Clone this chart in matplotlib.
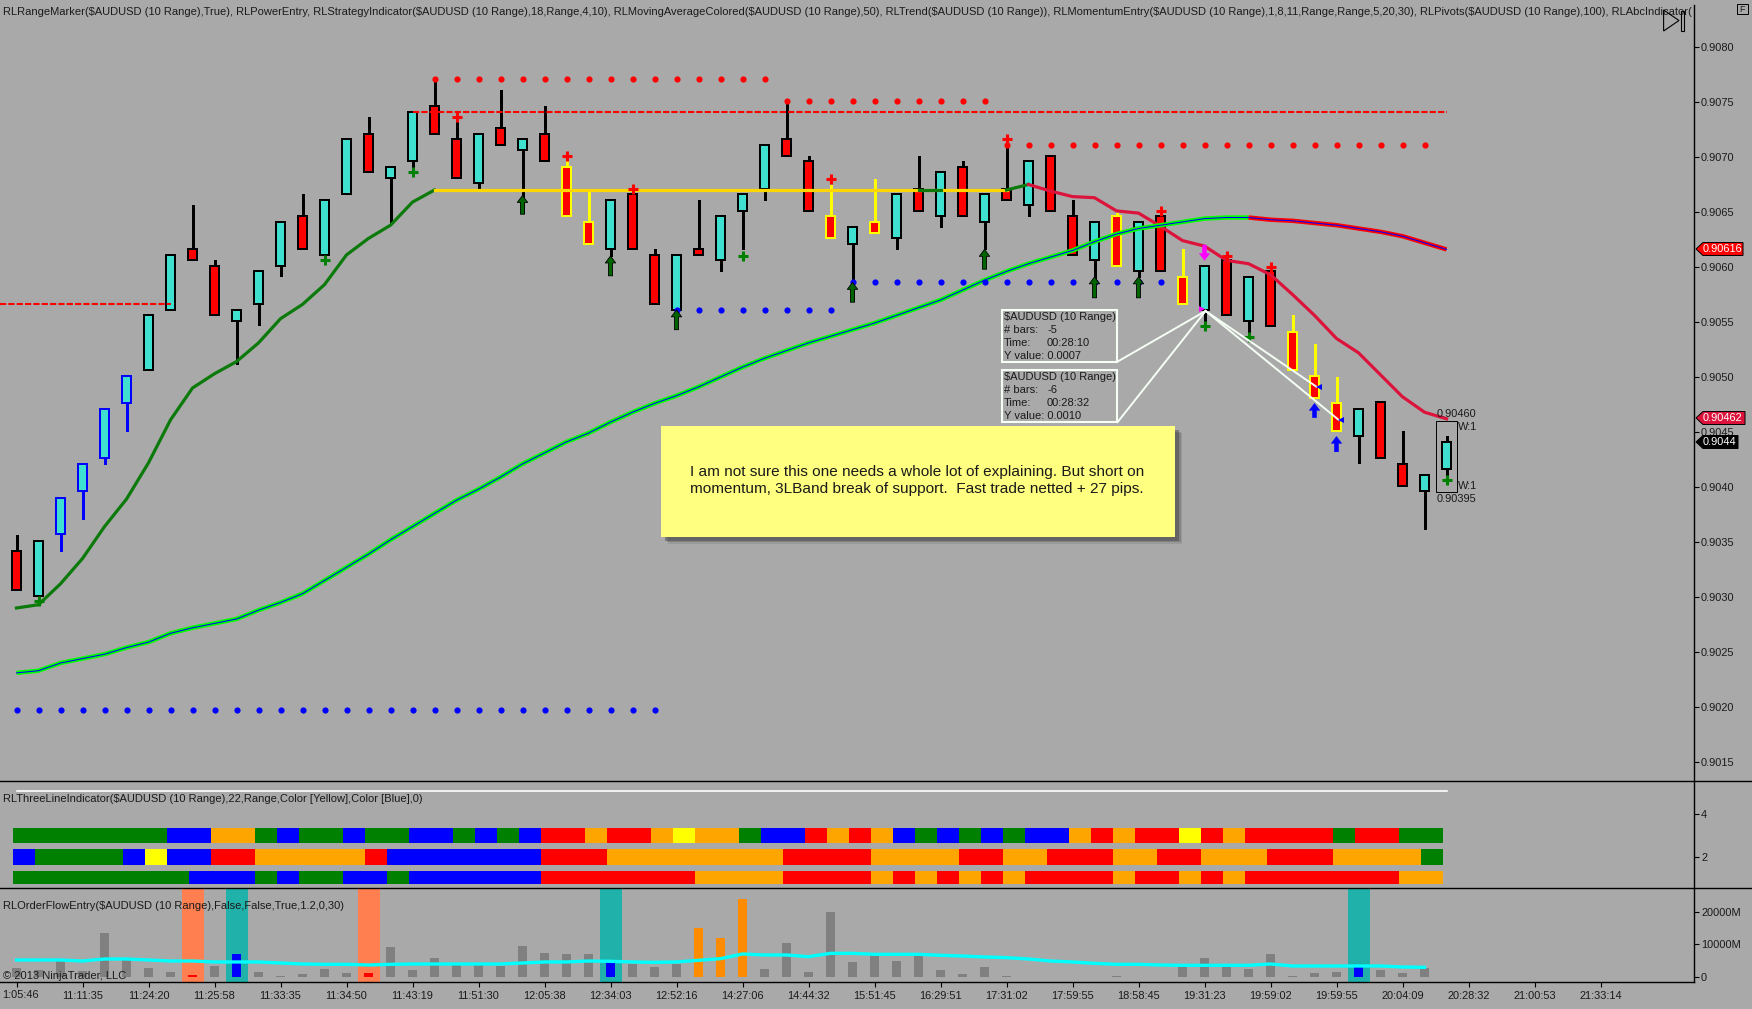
import matplotlib
matplotlib.use("Agg")
import matplotlib.pyplot as plt
from matplotlib.patches import Polygon, Rectangle
import numpy as np

plt.rcParams["font.family"] = ["Liberation Sans", "DejaVu Sans"]

W, H = 1752, 1009
BG = "#A9A9A9"
TXT = "#1a1a1a"
FS = 7.9

# candles, all prices in pips above 0.9000
body_top = [34.2, 35.1, 39.0, 42.1, 47.1, 50.1, 55.6, 61.1, 61.6, 60.1, 56.1, 59.6, 64.1, 64.6, 66.1, 71.6, 72.1,
            69.1, 74.1, 74.6, 71.6, 72.1, 72.6, 71.6, 72.1, 69.1, 64.1, 66.1, 66.6, 61.1, 61.1, 61.6, 64.6, 66.6,
            71.1, 71.6, 69.6, 64.6, 63.6, 64.1, 66.6, 67.1, 68.6, 69.1, 66.6, 67.1, 69.6, 70.1, 64.6, 64.1, 64.6,
            64.1, 64.6, 59.1, 60.1, 60.6, 59.1, 59.6, 54.1, 50.1, 47.6, 47.1, 47.7, 42.1, 41.1, 44.1]
body_bot = [30.6, 30.1, 35.7, 39.6, 42.6, 47.6, 50.6, 56.1, 60.6, 55.6, 55.1, 56.6, 60.1, 61.6, 61.1, 66.6, 68.6,
            68.1, 69.6, 72.1, 68.1, 67.6, 71.1, 70.6, 69.6, 64.6, 62.1, 61.6, 61.6, 56.6, 56.1, 61.1, 60.6, 65.1,
            67.1, 70.1, 65.1, 62.6, 62.1, 63.1, 62.6, 65.1, 64.6, 64.6, 64.1, 66.1, 65.6, 65.1, 61.1, 60.6, 60.1,
            59.6, 59.6, 56.6, 56.1, 55.6, 55.1, 54.6, 50.6, 48.1, 45.1, 44.6, 42.6, 40.1, 39.6, 41.6]
high = [35.6, 35.1, 39.0, 42.1, 47.1, 50.1, 55.6, 61.1, 65.6, 60.6, 56.1, 59.6, 64.1, 66.6, 66.1, 71.6, 73.6,
        69.1, 74.1, 77.0, 73.2, 72.1, 76.1, 71.6, 74.6, 69.6, 66.8, 66.1, 67.4, 61.6, 61.1, 66.1, 64.6, 66.6,
        71.1, 74.8, 70.1, 67.5, 63.6, 68.0, 66.6, 70.1, 68.6, 69.6, 66.6, 71.0, 69.6, 70.1, 66.1, 64.1, 64.9,
        64.1, 64.8, 61.6, 60.1, 61.2, 59.1, 60.3, 55.6, 53.0, 50.0, 47.1, 47.7, 45.1, 41.1, 44.6]
low = [30.6, 30.0, 34.2, 37.1, 42.1, 45.1, 50.6, 56.1, 60.6, 55.6, 51.2, 54.7, 59.2, 61.6, 61.0, 66.6, 68.6,
       64.1, 69.1, 72.1, 68.1, 67.0, 71.1, 64.9, 69.6, 64.6, 62.1, 61.0, 61.6, 56.6, 56.0, 61.1, 59.6, 61.6,
       66.1, 70.1, 65.1, 62.6, 57.0, 63.1, 61.6, 65.1, 63.6, 64.6, 61.6, 66.1, 64.6, 65.1, 61.1, 59.0, 60.1,
       59.1, 59.6, 56.6, 54.6, 55.6, 54.0, 54.6, 50.6, 48.1, 45.1, 42.2, 42.6, 40.1, 36.2, 41.1]
fill_up = [1, 2, 3, 4, 5, 6, 7, 10, 11, 12, 14, 15, 17, 18, 21, 23, 27, 30, 32, 33, 34, 38, 40, 42, 44, 46, 49, 51,
           54, 56, 61, 64, 65]
blue_outline = [2, 3, 4, 5]
yellow_outline = [25, 26, 37, 39, 50, 53, 58, 59, 60]

# trend line
trend_green = [29.0, 29.3, 31.2, 33.5, 36.4, 38.9, 42.2, 46.1, 49.0, 50.3, 51.4, 53.1, 55.3, 56.6, 58.4, 61.1, 62.6,
               63.8, 65.9, 67.0]
trend_flat_idx = [19, 45]
trend_flat = 67.0
trend_green2_idx = [41, 42]
trend_green3_idx = [45, 46]
trend_green3 = [67.0, 67.5]
trend_red_idx = list(range(46, 66))
trend_red = [67.5, 66.9, 66.4, 66.3, 65.1, 64.9, 63.7, 62.4, 61.9, 60.6, 60.3, 59.3, 57.5, 55.6, 53.5, 52.2, 50.2,
             48.2, 46.8, 46.2]

# 50 period moving average
ma50 = [23.1, 23.3, 24.0, 24.4, 24.8, 25.4, 25.9, 26.7, 27.2, 27.6, 28.0, 28.8, 29.5, 30.3, 31.5, 32.7, 33.9, 35.2,
        36.4, 37.6, 38.8, 39.8, 40.9, 42.1, 43.1, 44.1, 44.9, 45.9, 46.8, 47.6, 48.3, 49.1, 50.0, 50.9, 51.7, 52.4,
        53.1, 53.7, 54.3, 54.9, 55.6, 56.3, 57.0, 57.9, 58.8, 59.6, 60.3, 60.9, 61.5, 62.3, 63.0, 63.5, 63.8, 64.1,
        64.4, 64.5, 64.5, 64.3, 64.2, 64.0, 63.8, 63.5, 63.2, 62.8, 62.2, 61.6]
ma_split = 56

# pivots dots: first index, last index, level
red_dots = [(19, 34, 77.1), (35, 44, 75.1), (45, 64, 71.1)]
blue_dots = [(0, 29, 19.7), (30, 37, 56.1), (38, 52, 58.6)]
dashed_levels = [(-0.75, 7, 56.6), (18, 65, 74.1)]

# entry markers
red_plus_i = [20, 25, 28, 37, 45, 52, 55, 57]
red_plus_p = [73.6, 70.1, 67.1, 68.0, 71.6, 65.1, 61.0, 60.0]
green_plus_i = [1, 14, 18, 33, 54, 56, 65]
green_plus_p = [29.6, 60.6, 68.6, 61.0, 54.6, 53.6, 40.6]
green_arrow_i = [23, 27, 30, 38, 44, 49, 51]
green_arrow_tip = [66.5, 61.0, 56.1, 58.6, 61.6, 59.1, 59.1]
green_arrow_tail = [64.8, 59.2, 54.3, 56.8, 59.8, 57.2, 57.2]
blue_arrow_i = [59, 60]
blue_arrow_tip = [47.6, 44.6]
blue_arrow_tail = [46.3, 43.2]

# measure lines: bar index and level of every end
apex = (54.05, 56.0)
box_corners = [(50.05, 51.4), (50.05, 45.9)]
measure_ends = [(59.1, 49.1), (60.1, 46.1)]

# three line rows as runs of cells
cell_colors = {"g": "#008000", "b": "#0000FF", "o": "#FFA500", "r": "#FF0000", "y": "#FFFF00"}
row1_codes = ["g", "b", "o", "g", "b", "g", "b", "g", "b", "g", "b", "g", "b", "r", "o", "r", "o", "y", "o", "g",
              "b", "r", "o", "r", "o", "b", "g", "b", "g", "b", "g", "b", "o", "r", "o", "r", "y", "r", "o", "r",
              "g", "r", "g"]
row1_runs = [7, 2, 2, 1, 1, 2, 1, 2, 2, 1, 1, 1, 1, 2, 1, 2, 1, 1, 2, 1,
             2, 1, 1, 1, 1, 1, 1, 1, 1, 1, 1, 2, 1, 1, 1, 2, 1, 1, 1, 4,
             1, 2, 2]
row2_codes = ["b", "g", "b", "y", "b", "r", "o", "r", "b", "r", "o", "r", "o", "r", "o", "r", "o", "r", "o", "r",
              "o", "g"]
row2_runs = [1, 4, 1, 1, 2, 2, 5, 1, 7, 3, 8, 4, 4, 2, 2, 3, 2, 2, 3, 3, 4, 1]
row3_codes = ["g", "b", "g", "b", "g", "b", "g", "b", "r", "o", "r", "o", "r", "o", "r", "o", "r", "o", "r", "o",
              "r", "o", "r", "o", "r", "o"]
row3_runs = [8, 3, 1, 1, 2, 2, 1, 6, 7, 4, 4, 1, 1, 1, 1, 1, 1, 1, 4, 1,
             2, 1, 1, 1, 7, 2]

# order flow volume (M), one value per bar
volume = [2770, 2150, 4900, 1850, 13540, 5850, 2770, 1540, 600, 3390, 7080, 1540, 300, 920, 2460, 1230, 1230, 9230,
          2150, 5850, 3690, 4000, 3390, 9540, 7390, 7080, 7080, 4920, 4000, 3080, 4000, 15080, 12000, 24000, 2460,
          10460, 1540, 20000, 4620, 6770, 4920, 7080, 2150, 920, 3080, 300, 0, 0, 0, 0, 300, 0, 0, 3080, 5850, 4000,
          2460, 7080, 300, 1230, 1540, 3390, 2150, 1230, 2770]
vol_avg = [5230, 5230, 5230, 4920, 5540, 5540, 5230, 4920, 4920, 4620, 4620, 4620, 4310, 4000, 3900, 3900, 3690,
           3900, 4000, 4000, 4000, 4000, 4000, 4310, 4620, 4620, 4920, 4820, 4620, 4510, 4620, 5130, 5640, 7080,
           6770, 6770, 6260, 7280, 7280, 6980, 6980, 6980, 6670, 6460, 6160, 5950, 5540, 4920, 4620, 4200, 3900,
           3900, 3690, 3590, 3590, 3590, 3590, 4000, 3390, 3390, 3390, 3390, 3390, 3080, 2980]
vol_red = [8, 16]
vol_blue = [10, 27, 61]
vol_orange = [31, 32, 33]
coral_bands = [8, 16]
teal_bands = [10, 27, 61]

price_ticks = [0.9080, 0.9075, 0.9070, 0.9065, 0.9060, 0.9055, 0.9050, 0.9045, 0.9040, 0.9035, 0.9030, 0.9025,
               0.9020, 0.9015]
time_labels = ["", "11:11:35", "11:24:20", "11:25:58", "11:33:35", "11:34:50", "11:43:19", "11:51:30",
               "12:05:38", "12:34:03", "12:52:16", "14:27:06", "14:44:32", "15:51:45", "16:29:51", "17:31:02",
               "17:59:55", "18:58:45", "19:31:23", "19:59:02", "19:59:55", "20:04:09", "20:28:32", "21:00:53",
               "21:33:14"]
first_time_label = "1:05:46"
three_ticks = [4, 2]
vol_ticks = [0, 10000, 20000]

title_main = ("RLRangeMarker($AUDUSD (10 Range),True), RLPowerEntry, RLStrategyIndicator($AUDUSD (10 Range),18,Range,4,10), "
              "RLMovingAverageColored($AUDUSD (10 Range),50), RLTrend($AUDUSD (10 Range)), "
              "RLMomentumEntry($AUDUSD (10 Range),1,8,11,Range,Range,5,20,30), RLPivots($AUDUSD (10 Range),100), RLAbcIndicator(")
title_three = "RLThreeLineIndicator($AUDUSD (10 Range),22,Range,Color [Yellow],Color [Blue],0)"
title_flow = "RLOrderFlowEntry($AUDUSD (10 Range),False,False,True,1.2,0,30)"
note_text = ("I am not sure this one needs a whole lot of explaining. But short on\n"
             "momentum, 3LBand break of support.  Fast trade netted + 27 pips.")


def price(v):
    return 0.9 + np.asarray(v, dtype=float) / 10000


def pane(top, bottom):
    return [0, 1 - bottom / H, 1694 / W, (bottom - top) / H]


fig = plt.figure(figsize=(W / 100, H / 100), dpi=100, facecolor=BG)
ax = fig.add_axes(pane(0, 781), facecolor="none")
ax2 = fig.add_axes(pane(781, 888.3), facecolor="none", sharex=ax)
ax3 = fig.add_axes(pane(888.3, 982), facecolor="none", sharex=ax)
over = fig.add_axes([0, 0, 1, 1], facecolor="none", zorder=10)
over.set_xlim(0, W)
over.set_ylim(H, 0)
over.axis("off")

ax.set_xlim(-0.75, 76.25)
ax.set_ylim(price(80 - 734 / 11), price(80 + 47 / 11))
ax2.set_ylim(4 - 74.6 / 21.65, 4 + 32.7 / 21.65)
ax3.set_ylim(-1540, 27290)

idx = np.arange(len(body_top))

# candles
for i in idx:
    fill = "#40E0D0" if i in fill_up else "#FF0000"
    edge = "#0000FF" if i in blue_outline else "#FFFF00" if i in yellow_outline else "black"
    ax.vlines(i, price(low[i]), price(high[i]), color=edge, lw=1.9, zorder=2, antialiased=False)
    ax.bar(i, price(body_top[i]) - price(body_bot[i]), bottom=price(body_bot[i]), width=0.4, facecolor=fill,
           edgecolor=edge, linewidth=1.1, zorder=3, antialiased=False)

# dashed levels, dots
for x0, x1, level in dashed_levels:
    ax.plot([x0, x1], price([level, level]), color="red", lw=1.5, ls=(0, (3, 1)), zorder=4)
for first, last, level in red_dots:
    xs = np.arange(first, last + 1)
    ax.scatter(xs, price(np.full(len(xs), level)), s=20, color="red", linewidths=0, zorder=6)
for first, last, level in blue_dots:
    xs = np.arange(first, last + 1)
    ax.scatter(xs, price(np.full(len(xs), level)), s=20, color="#0000FF", linewidths=0, zorder=6)

# lines
ax.plot(idx[:len(trend_green)], price(trend_green), color="#0B7A0B", lw=2.3, zorder=5)
ax.plot(trend_flat_idx, price([trend_flat, trend_flat]), color="#FFD700", lw=2.3, zorder=5)
ax.plot(trend_green2_idx, price([trend_flat, trend_flat]), color="#0B7A0B", lw=2.3, zorder=5)
ax.plot(trend_green3_idx, price(trend_green3), color="#0B7A0B", lw=2.3, zorder=5)
ax.plot(trend_red_idx, price(trend_red), color="#DC143C", lw=2.3, zorder=5)

ax.plot(idx[:ma_split + 1], price(ma50[:ma_split + 1]), color="#00FF00", lw=3.2, zorder=5, solid_capstyle="butt")
ax.plot(idx[ma_split:], price(ma50[ma_split:]), color="#FF0000", lw=3.2, zorder=5, solid_capstyle="butt")
ax.plot(idx, price(ma50), color="#0000FF", lw=0.75, zorder=5.1)

# plus signs
ax.plot(red_plus_i, price(red_plus_p), ls="none", marker="+", ms=7.5, mew=2.2, color="red", zorder=7)
ax.plot(green_plus_i, price(green_plus_p), ls="none", marker="+", ms=7, mew=2.2, color="#008000", zorder=7)


def arrow(i, tail, tip, face, edge, lw):
    ax.annotate("", xy=(i, price(tip)), xytext=(i, price(tail)), zorder=7,
                arrowprops=dict(arrowstyle="simple,head_length=0.5,head_width=0.75,tail_width=0.3", mutation_scale=10,
                                shrinkA=0, shrinkB=0, fc=face, ec=edge, lw=lw))


for i, tip, tail in zip(green_arrow_i, green_arrow_tip, green_arrow_tail):
    arrow(i, tail, tip, "#006400", "black", 0.6)
for i, tip, tail in zip(blue_arrow_i, blue_arrow_tip, blue_arrow_tail):
    arrow(i, tail, tip, "#0000FF", "#0000FF", 0.3)
arrow(54, 62.0, 60.6, "#FF00FF", "#FF00FF", 0.3)

# measure lines
for cx, cp in box_corners + measure_ends:
    ax.plot([apex[0], cx], price([apex[1], cp]), color="#F5FFF5", lw=1.4, zorder=8)
ax.plot([53.9], price([56.2]), marker=">", ms=5, color="#FF00FF", mew=0, zorder=9)
ax.plot([59.2, 60.2], price([49.1, 46.1]), ls="none", marker="<", ms=5, color="#0000FF", mew=0, zorder=9)

# three line panel
for codes, runs, center, height in [(row1_codes, row1_runs, 3, 0.7), (row2_codes, row2_runs, 2, 0.7),
                                    (row3_codes, row3_runs, 1.05, 0.6)]:
    start = -0.14
    for code, run in zip(codes, runs):
        ax2.bar(start, height, bottom=center - height / 2, width=run, align="edge", color=cell_colors[code], lw=0,
                antialiased=False)
        start += run
ax2.plot([0, 65], [5.05, 5.05], color="white", lw=1.2)

# order flow panel
for i in coral_bands:
    ax3.bar(i, 28830, bottom=-1440, width=1.0, color="#FF7F50", lw=0, zorder=1)
for i in teal_bands:
    ax3.bar(i, 28830, bottom=-1440, width=1.0, color="#20B2AA", lw=0, zorder=1)
vol_colors = []
for i in range(len(volume)):
    if i in vol_red:
        vol_colors.append("#FF0000")
    elif i in vol_blue:
        vol_colors.append("#0000FF")
    elif i in vol_orange:
        vol_colors.append("#FF8C00")
    else:
        vol_colors.append("#808080")
ax3.bar(np.arange(len(volume)), volume, width=0.41, color=vol_colors, lw=0, zorder=2, antialiased=False)
ax3.plot(np.arange(len(vol_avg)), vol_avg, color="#00FFFF", lw=2.4, zorder=3)

# axes look
for a in (ax, ax2, ax3):
    for s in a.spines.values():
        s.set_visible(False)
    a.spines["right"].set_visible(True)
    a.spines["right"].set_linewidth(1.0)
    a.yaxis.tick_right()
    a.tick_params(axis="y", direction="out", length=3.6, width=0.8, pad=1.5, labelsize=FS, labelcolor=TXT)
ax.spines["right"].set_bounds(ax.get_ylim()[0], price(80 + 42 / 11))
ax3.spines["bottom"].set_visible(True)
ax3.spines["bottom"].set_linewidth(1.0)
ax.set_yticks(price_ticks, [f"{t:.4f}" for t in price_ticks])
ax2.set_yticks(three_ticks, [str(t) for t in three_ticks])
ax3.set_yticks(vol_ticks, ["0", "10000M", "20000M"])
ax.tick_params(axis="x", bottom=False, labelbottom=False)
ax2.tick_params(axis="x", bottom=False, labelbottom=False)
ax3.set_xticks(np.arange(len(time_labels)) * 3, time_labels)
ax3.tick_params(axis="x", direction="out", length=3.6, width=0.8, pad=3, labelsize=FS, labelcolor=TXT)

# chrome in pixel space
over.plot([0, W], [781.3, 781.3], color="black", lw=1.0)
over.plot([0, W], [888.3, 888.3], color="black", lw=1.0)

title = ax.text(3, 12, title_main, fontsize=8.02, color=TXT, va="center", ha="left", parse_math=False,
                transform=over.transData, clip_on=True)
title.set_clip_box(ax.bbox)
over.text(3, 799.5, title_three, fontsize=7.97, color=TXT, va="center", parse_math=False)
over.text(3, 906, title_flow, fontsize=8.0, color=TXT, va="center", parse_math=False)
over.text(3, 976, "© 2013 NinjaTrader, LLC", fontsize=8.0, color=TXT, va="center")
over.text(2, 995, first_time_label, fontsize=FS, color=TXT, va="center")

# value boxes
for top, bars, time_txt, y_txt in [(310, "-5", "00:28:10", "0.0007"), (370, "-6", "00:28:32", "0.0010")]:
    over.add_patch(Rectangle((1001.7, top), 115, 52.3, fc="none", ec="#F5FFF5", lw=1.5))
    over.text(1004, top + 7, "$AUDUSD (10 Range)", fontsize=8, color=TXT, va="center", parse_math=False)
    over.text(1004, top + 20, "# bars:", fontsize=8, color=TXT, va="center")
    over.text(1047, top + 20, bars, fontsize=8, color=TXT, va="center")
    over.text(1004, top + 33, "Time:", fontsize=8, color=TXT, va="center")
    over.text(1047, top + 33, time_txt, fontsize=8, color=TXT, va="center")
    over.text(1004, top + 46, "Y value: " + y_txt, fontsize=8, color=TXT, va="center")

# sticky note with soft shadow
for off, alpha in [(7, 0.15), (5.5, 0.25), (4, 0.45)]:
    over.add_patch(Rectangle((661 + off, 426 + off), 514, 110.7, fc="#404040", ec="none", alpha=alpha))
over.add_patch(Rectangle((661, 426), 514, 110.7, fc="#FFFF80", ec="none"))
over.text(917, 480.5, note_text, fontsize=11.05, color=TXT, ha="center", va="center", linespacing=1.2)

# current bar box
over.add_patch(Rectangle((1435.7, 420.7), 21.5, 71.6, fc="none", ec="black", lw=0.7))
over.text(1456.7, 414, "0.90460", fontsize=FS, color=TXT, ha="center", va="center")
over.text(1456.7, 499, "0.90395", fontsize=FS, color=TXT, ha="center", va="center")
over.text(1468, 427, "W:1", fontsize=FS, color=TXT, ha="center", va="center")
over.text(1468, 486, "W:1", fontsize=FS, color=TXT, ha="center", va="center")


def flag(y, x1, label, face, fg):
    over.add_patch(Polygon([(1696, y), (1703, y - 6.5), (x1, y - 6.5), (x1, y + 6.5), (1703, y + 6.5)], fc=face,
                           ec="black", lw=0.7, zorder=5))
    over.text(1702.5, y, label, fontsize=7.9, color=fg, va="center", zorder=6)


flag(249, 1743, "0.90616", "#FF0000", "white")
flag(418, 1745, "0.90462", "#DC143C", "white")
flag(442, 1738, "0.9044", "black", "white")

# F button and skip symbol
over.add_patch(Rectangle((1737, 4), 11, 10, fc="none", ec="black", lw=0.7))
over.text(1742.5, 9, "F", fontsize=6.5, color=TXT, ha="center", va="center")
over.add_patch(Polygon([(1663.6, 10), (1679, 20.5), (1663.6, 31)], fc="none", ec="black", lw=0.8))
over.add_patch(Rectangle((1681, 11), 3, 20, fc="none", ec="black", lw=0.8))

fig.savefig("out.png", dpi=100, facecolor=BG)
